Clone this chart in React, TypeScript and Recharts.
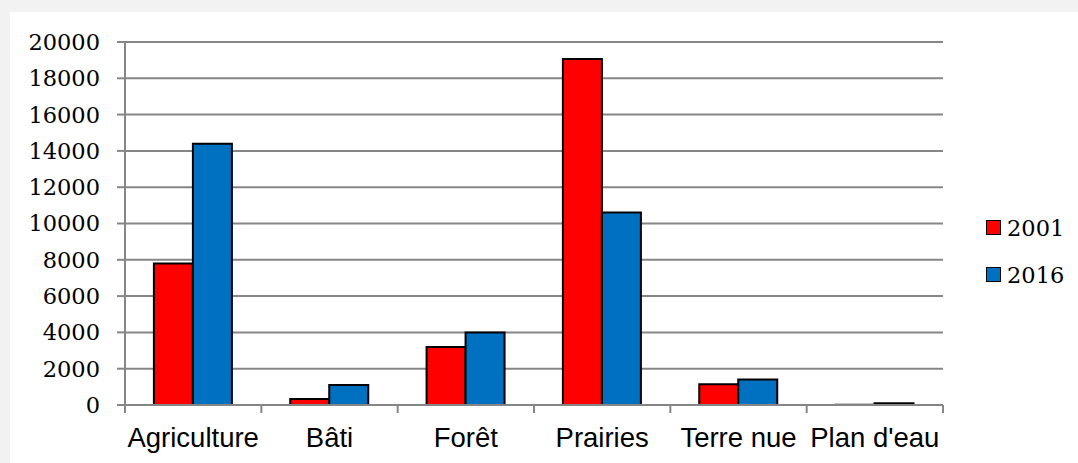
import { BarChart, Bar, XAxis, YAxis, CartesianGrid, Legend } from 'recharts'

const categories = ['Agriculture', 'Bâti', 'Forêt', 'Prairies', 'Terre nue', "Plan d'eau"]
const values2001 = [7800, 330, 3200, 19070, 1150, 20]
const values2016 = [14400, 1100, 4000, 10600, 1400, 100]
const yTicks = [0, 2000, 4000, 6000, 8000, 10000, 12000, 14000, 16000, 18000, 20000]
const seriesNames = ['2001', '2016']

const data = categories.map((name, i) => ({
  name,
  v2001: values2001[i],
  v2016: values2016[i],
}))

const W = 1068
const H = 451
const MARGIN = { top: 30, right: 135, bottom: 8, left: 15 }
const Y_W = 100
const PLOT_W = W - MARGIN.left - MARGIN.right - Y_W
const BAND = PLOT_W / categories.length
const GRID = '#868686'

function XTick(props: any) {
  const { x, y, payload, index } = props
  const left = x - BAND / 2
  return (
    <g>
      <line x1={left} y1={y} x2={left} y2={y + 8} stroke={GRID} strokeWidth={2} />
      {index === categories.length - 1 && (
        <line x1={x + BAND / 2} y1={y} x2={x + BAND / 2} y2={y + 8} stroke={GRID} strokeWidth={2} />
      )}
      <text
        x={x}
        y={y + 41.5}
        textAnchor="middle"
        fill="#000"
        style={{ fontFamily: '"Liberation Sans", Arial, sans-serif', fontSize: 27.5 }}
      >
        {payload.value}
      </text>
    </g>
  )
}

function LegendBox() {
  const colors = ['#ff0000', '#0070c0']
  return (
    <div style={{ position: 'absolute', left: 976, top: 192 }}>
      {seriesNames.map((s, i) => (
        <div key={s} style={{ display: 'flex', alignItems: 'center', height: 47 }}>
          <span
            style={{
              width: 13,
              height: 13,
              background: colors[i],
              border: '1.5px solid #000',
              marginRight: 6,
            }}
          />
          <span style={{ fontFamily: '"DejaVu Serif", serif', fontSize: 22.5, color: '#000' }}>{s}</span>
        </div>
      ))}
    </div>
  )
}

export default function App() {
  return (
    <div style={{ width: 1078, height: 463, background: '#f2f2f2', position: 'relative' }}>
      <style>{'body{margin:0}'}</style>
      <div style={{ position: 'absolute', left: 10, top: 12, width: W, height: H, background: '#fff' }}>
        <BarChart
          width={W}
          height={H}
          data={data}
          margin={MARGIN}
          barCategoryGap="21.2%"
          barGap={0}
        >
          <CartesianGrid vertical={false} stroke={GRID} strokeWidth={2} />
          <XAxis
            dataKey="name"
            height={50}
            axisLine={{ stroke: GRID, strokeWidth: 2 }}
            tickLine={false}
            tickSize={0}
            tickMargin={0}
            interval={0}
            tick={<XTick />}
          />
          <YAxis
            width={Y_W}
            domain={[0, 20000]}
            ticks={yTicks}
            interval={0}
            axisLine={{ stroke: GRID, strokeWidth: 2 }}
            tickLine={{ stroke: GRID, strokeWidth: 2 }}
            tickSize={8}
            tickMargin={17}
            tick={{ fill: '#000', fontSize: 22.5, fontFamily: '"DejaVu Serif", serif' }}
          />
          <Legend content={() => null} />
          <Bar dataKey="v2001" name="2001" fill="#ff0000" stroke="#000" strokeWidth={2} isAnimationActive={false} />
          <Bar dataKey="v2016" name="2016" fill="#0070c0" stroke="#000" strokeWidth={2} isAnimationActive={false} />
        </BarChart>
        <LegendBox />
      </div>
    </div>
  )
}
